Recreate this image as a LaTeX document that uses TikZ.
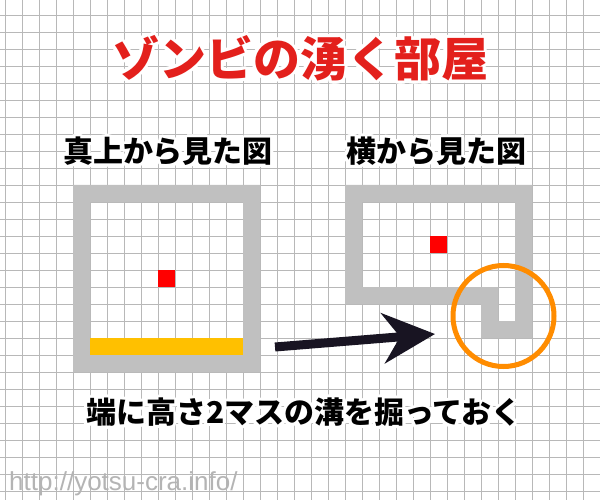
\documentclass[tikz,border=0pt]{standalone}
\usepackage{fontspec}
\usepackage{contour}
\usetikzlibrary{arrows.meta}
\newfontfamily\cjk{Noto Sans CJK JP}
\setsansfont{Liberation Sans}
\definecolor{wallgray}{RGB}{192,192,192}
\definecolor{titlered}{RGB}{227,32,28}
\definecolor{zombiered}{RGB}{255,0,0}
\definecolor{trenchyellow}{RGB}{255,192,0}
\definecolor{markorange}{RGB}{255,140,0}
\definecolor{arrowink}{RGB}{24,20,34}
\definecolor{urlgray}{RGB}{180,180,180}
\contourlength{3pt}

\begin{document}
\begin{tikzpicture}[x=1pt, y=-1pt,
    gridline/.style={draw=black!28, line width=0.8pt},
    wall/.style={fill=wallgray, even odd rule},
    zombie/.style={fill=zombiered},
    bigarrow/.style={draw=arrowink, line width=9pt,
        -{Stealth[length=52pt, width=50pt, inset=17pt]}},
    heading/.style={inner sep=0pt, font=\cjk\bfseries\fontsize{30}{32}\selectfont}]
    \useasboundingbox (0, 0) rectangle (600, 500);
    \fill[white] (0, 0) rectangle (600, 500);
    % grid paper
    \foreach \k in {0,...,35}
        \draw[gridline] ({5+17*\k}, 0) -- ({5+17*\k}, 500);
    \foreach \j in {0,...,28}
        \draw[gridline] (0, {15+17*\j}) -- (600, {15+17*\j});
    % top view
    \fill[wall] (73, 185) rectangle (260, 372) (90, 202) rectangle (243, 355);
    \fill[trenchyellow] (90, 338) rectangle (243, 355);
    \fill[zombie] (158, 270) rectangle (175, 287);
    % side view
    \fill[wall] (345, 185) -- (532, 185) -- (532, 338) -- (481, 338) -- (481, 304) -- (345, 304) -- cycle
                (362, 202) -- (515, 202) -- (515, 321) -- (498, 321) -- (498, 287) -- (362, 287) -- cycle;
    \fill[zombie] (430, 236) rectangle (447, 253);
    \node[draw=markorange, line width=5pt, circle, minimum size=101pt, inner sep=0pt] (trench) at (503.5, 316) {};
    % labels
    \node[inner sep=0pt, font=\cjk\bfseries\fontsize{47}{50}\selectfont, text=titlered] (title) at (300, 60) {\contour{white}{ゾンビの湧く部屋}};
    \node[heading] (topview) at (168, 153) {\contour{white}{真上から見た図}};
    \node[heading] (sideview) at (436, 153) {\contour{white}{横から見た図}};
    \node[heading] (caption) at (304, 414) {\contour{white}{端に高さ2マスの溝を掘っておく}};
    \node[inner sep=0pt, anchor=west, text=urlgray, font=\sffamily\fontsize{26}{28}\selectfont] (url) at (9, 484) {http://yotsu-cra.info/};
    \coordinate (from) at (275, 347);
    \coordinate (to) at (435, 334);
    \draw[bigarrow] (from) -- (to);
\end{tikzpicture}
\end{document}
